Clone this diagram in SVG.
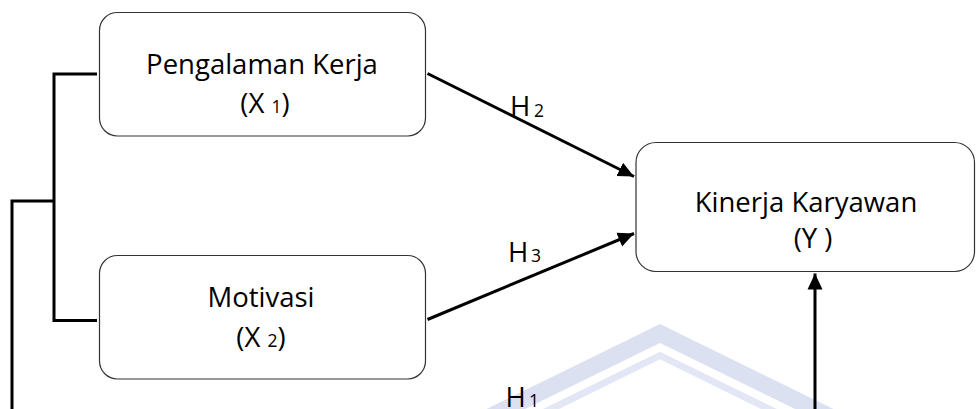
<svg xmlns="http://www.w3.org/2000/svg" width="976" height="409" viewBox="0 0 976 409">
  <style>
    .box { fill: #ffffff; stroke: #333333; stroke-width: 1.2; }
    .lbl { font-family: "Open Sans", "Liberation Sans", sans-serif; font-size: 27.5px; fill: #000000; }
    .sub { font-size: 17.5px; }
    .conn { stroke: #000000; stroke-width: 3; fill: none; }
    .wm1 { fill: #dce1f2; }
    .wm2 { fill: #e2e6f5; }
  </style>
  <defs>
    <marker id="arr" markerUnits="userSpaceOnUse" markerWidth="18" markerHeight="18" viewBox="0 0 18 18" refX="16" refY="9" orient="auto">
      <path d="M0,1.5 L16,9 L0,16.5 Z" fill="#000000"/>
    </marker>
  </defs>
  <rect width="976" height="409" fill="#ffffff"/>
  <g id="watermark">
    <polygon class="wm1" points="486.5,409 660,324 833.5,409 795,409 660,343 525,409"/>
    <polygon class="wm2" points="543,409 660,351.7 777,409 761,409 660,359.3 559,409"/>
  </g>
  <g id="connectors">
    <polyline class="conn" points="97,74 54,74 54,320.5 97,320.5"/>
    <polyline class="conn" points="54,201 12,201 12,409"/>
    <line class="conn" x1="427.5" y1="73.5" x2="634" y2="176.5" marker-end="url(#arr)"/>
    <line class="conn" x1="427.5" y1="319.5" x2="634" y2="233.5" marker-end="url(#arr)"/>
    <line class="conn" x1="815" y1="409" x2="815" y2="273.5" marker-end="url(#arr)"/>
    <text class="lbl" x="510" y="116">H<tspan class="sub" x="534" y="116.5">2</tspan></text>
    <text class="lbl" x="508" y="261.5">H<tspan class="sub" x="531" y="262">3</tspan></text>
    <text class="lbl" x="505.5" y="406.5">H<tspan class="sub" x="529" y="407">1</tspan></text>
  </g>
  <g id="node-x1">
    <rect class="box" x="99.5" y="12.5" width="326" height="123.5" rx="18" ry="18"/>
    <text class="lbl" x="262" y="74" text-anchor="middle">Pengalaman Kerja</text>
    <text class="lbl" x="265" y="113" text-anchor="middle">(X <tspan class="sub">1</tspan>)</text>
  </g>
  <g id="node-x2">
    <rect class="box" x="99.5" y="255.5" width="326" height="123.5" rx="18" ry="18"/>
    <text class="lbl" x="261" y="307" text-anchor="middle">Motivasi</text>
    <text class="lbl" x="261" y="346.5" text-anchor="middle">(X <tspan class="sub">2</tspan>)</text>
  </g>
  <g id="node-y">
    <rect class="box" x="636" y="142.5" width="338.5" height="129" rx="20" ry="20"/>
    <text class="lbl" x="806" y="211.5" text-anchor="middle">Kinerja Karyawan</text>
    <text class="lbl" x="813" y="248" text-anchor="middle">(Y )</text>
  </g>
</svg>
